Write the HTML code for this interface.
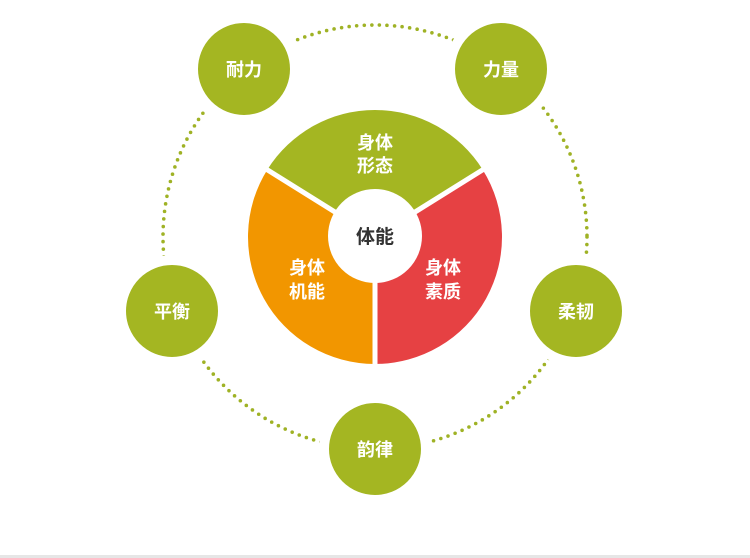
<!DOCTYPE html>
<html><head><meta charset="utf-8"><style>
html,body{margin:0;padding:0;background:#fff;}
svg{display:block}
text{font-family:"Liberation Sans","Noto Sans CJK SC",sans-serif;font-weight:bold;}
</style></head><body>
<svg width="750" height="558" viewBox="0 0 750 558">
<rect x="0" y="555" width="750" height="3" fill="#e6e6e6"/>
<circle cx="375" cy="237" r="212" fill="none" stroke="#9fb225" stroke-width="3.6" stroke-linecap="round" stroke-dasharray="0 7.6"/>
<!-- pie -->
<path d="M375 237 L267.3 169.7 A127 127 0 0 1 482.7 169.7 Z" fill="#a4b622"/>
<path d="M375 237 L482.7 169.7 A127 127 0 0 1 375 364 Z" fill="#e64143"/>
<path d="M375 237 L375 364 A127 127 0 0 1 267.3 169.7 Z" fill="#f29600"/>
<g stroke="#fff" stroke-width="5">
<line x1="375" y1="237" x2="262" y2="166.5"/>
<line x1="375" y1="237" x2="488" y2="166.5"/>
<line x1="375" y1="237" x2="375" y2="370"/>
</g>
<circle cx="375" cy="236" r="47" fill="#fff"/>
<text x="375" y="243" font-size="19" fill="#333" text-anchor="middle">体能</text>
<g font-size="18" fill="#fff" text-anchor="middle">
<text x="375" y="149">身体</text><text x="375" y="172">形态</text>
<text x="307" y="274">身体</text><text x="307" y="298">机能</text>
<text x="443" y="274">身体</text><text x="443" y="298">素质</text>
</g>
<g fill="#a4b622" stroke="#fff" stroke-width="10">
<circle cx="244" cy="69" r="51"/>
<circle cx="501" cy="69" r="51"/>
<circle cx="576" cy="311" r="51"/>
<circle cx="375" cy="449" r="51"/>
<circle cx="172" cy="311" r="51"/>
</g>
<g font-size="18" fill="#fff" text-anchor="middle">
<text x="244" y="76">耐力</text>
<text x="501" y="76">力量</text>
<text x="576" y="318">柔韧</text>
<text x="375" y="456">韵律</text>
<text x="172" y="318">平衡</text>
</g>
</svg>
</body></html>
